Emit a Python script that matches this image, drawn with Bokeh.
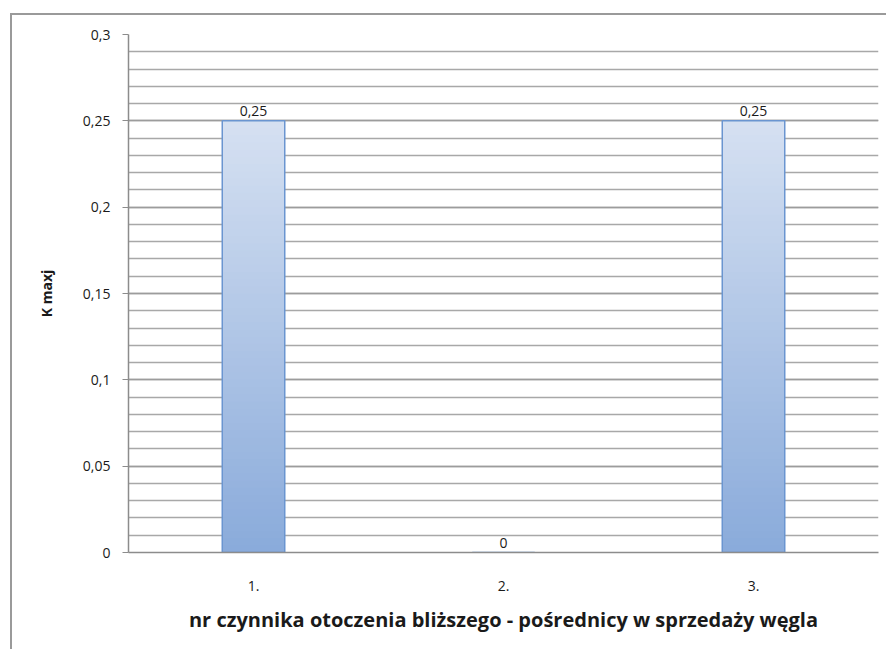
import numpy as np
from bokeh.plotting import figure
from bokeh.models import FixedTicker, ColumnDataSource
from bokeh.core.properties import value
from bokeh.embed import file_html
from bokeh.resources import INLINE

# data
categories = ["1.", "2.", "3."]
kmax_values = [0.25, 0.0, 0.25]
y_ticks = [0.0, 0.05, 0.10, 0.15, 0.20, 0.25, 0.30]
y_tick_labels = ["0", "0,05", "0,1", "0,15", "0,2", "0,25", "0,3"]
x_title = "nr czynnika otoczenia bliższego - pośrednicy w sprzedaży węgla"
y_title = "K maxj"

FONT = "Open Sans"
TEXT = "#1a1a1a"

p = figure(
    x_range=categories, y_range=(0, 0.3),
    width=876, height=636, output_backend="svg", toolbar_location=None,
    min_border_left=116, min_border_right=10, min_border_top=19, min_border_bottom=99,
    background_fill_color="white", border_fill_color="white",
    margin=(13, 0, 0, 10),
    styles={"border-left": "2px solid #9a9a9a", "border-top": "2px solid #9a9a9a"},
)
p.outline_line_color = None

# gradient-filled bars: each bar split into thin overlapping horizontal slices
n_slices = 60
c_bottom = np.array([0x8a, 0xab, 0xdb])
c_top = np.array([0xd6, 0xe1, 0xf2])
xs, bots, tops, cols = [], [], [], []
for cat, v in zip(categories, kmax_values):
    if v <= 0:
        continue
    edges = np.linspace(0, v, n_slices + 1)
    step = v / n_slices
    for i in range(n_slices):
        t = (i + 0.5) / n_slices
        c = (c_bottom + (c_top - c_bottom) * t).astype(int)
        xs.append(cat)
        bots.append(edges[i])
        tops.append(min(edges[i + 1] + step * 0.6, v))
        cols.append("#%02x%02x%02x" % tuple(c))
p.vbar(x=xs, bottom=bots, top=tops, width=0.25, fill_color=cols, line_color=None)

src = ColumnDataSource(dict(
    x=categories, top=kmax_values,
    label=[("%g" % v).replace(".", ",") for v in kmax_values],
))
p.vbar(x="x", top="top", width=0.25, source=src, fill_alpha=0,
       line_color="#6a95d0", line_width=1.5)

# value labels
p.text(x="x", y="top", text="label", source=src, text_align="center",
       text_baseline="bottom", y_offset=-5, text_font=value(FONT),
       text_font_size="14px", text_color=TEXT)

# y axis
p.yaxis.ticker = FixedTicker(ticks=y_ticks,
                             minor_ticks=[i / 100 for i in range(31)])
p.yaxis.major_label_overrides = {t: l for t, l in zip(y_ticks, y_tick_labels)}
p.yaxis.axis_line_color = "#8c8c8c"
p.yaxis.axis_line_width = 1.5
p.yaxis.major_tick_line_color = "#8c8c8c"
p.yaxis.major_tick_out = 6
p.yaxis.major_tick_in = 0
p.yaxis.minor_tick_out = 0
p.yaxis.minor_tick_in = 0
p.yaxis.major_label_standoff = 12
p.yaxis.major_label_text_font = FONT
p.yaxis.major_label_text_font_size = "14px"
p.yaxis.major_label_text_color = TEXT
p.yaxis.axis_label = y_title
p.yaxis.axis_label_text_font = FONT
p.yaxis.axis_label_text_font_style = "bold"
p.yaxis.axis_label_text_font_size = "14px"
p.yaxis.axis_label_text_color = TEXT
p.yaxis.axis_label_standoff = 24

# x axis
p.xaxis.axis_line_color = "#8c8c8c"
p.xaxis.axis_line_width = 1.5
p.xaxis.major_tick_line_color = None
p.xaxis.minor_tick_line_color = None
p.xaxis.major_label_standoff = 22
p.xaxis.major_label_text_font = FONT
p.xaxis.major_label_text_font_size = "14px"
p.xaxis.major_label_text_color = TEXT
p.xaxis.axis_label = x_title
p.xaxis.axis_label_text_font = FONT
p.xaxis.axis_label_text_font_style = "bold"
p.xaxis.axis_label_text_font_size = "20px"
p.xaxis.axis_label_text_color = TEXT
p.xaxis.axis_label_standoff = 12

# grid
p.xgrid.grid_line_color = None
p.ygrid.grid_line_color = "#9c9c9c"
p.ygrid.grid_line_width = 1.3
p.ygrid.minor_grid_line_color = "#a8a8a8"
p.ygrid.minor_grid_line_width = 1.3

open("out.html", "w").write(file_html(p, INLINE))
